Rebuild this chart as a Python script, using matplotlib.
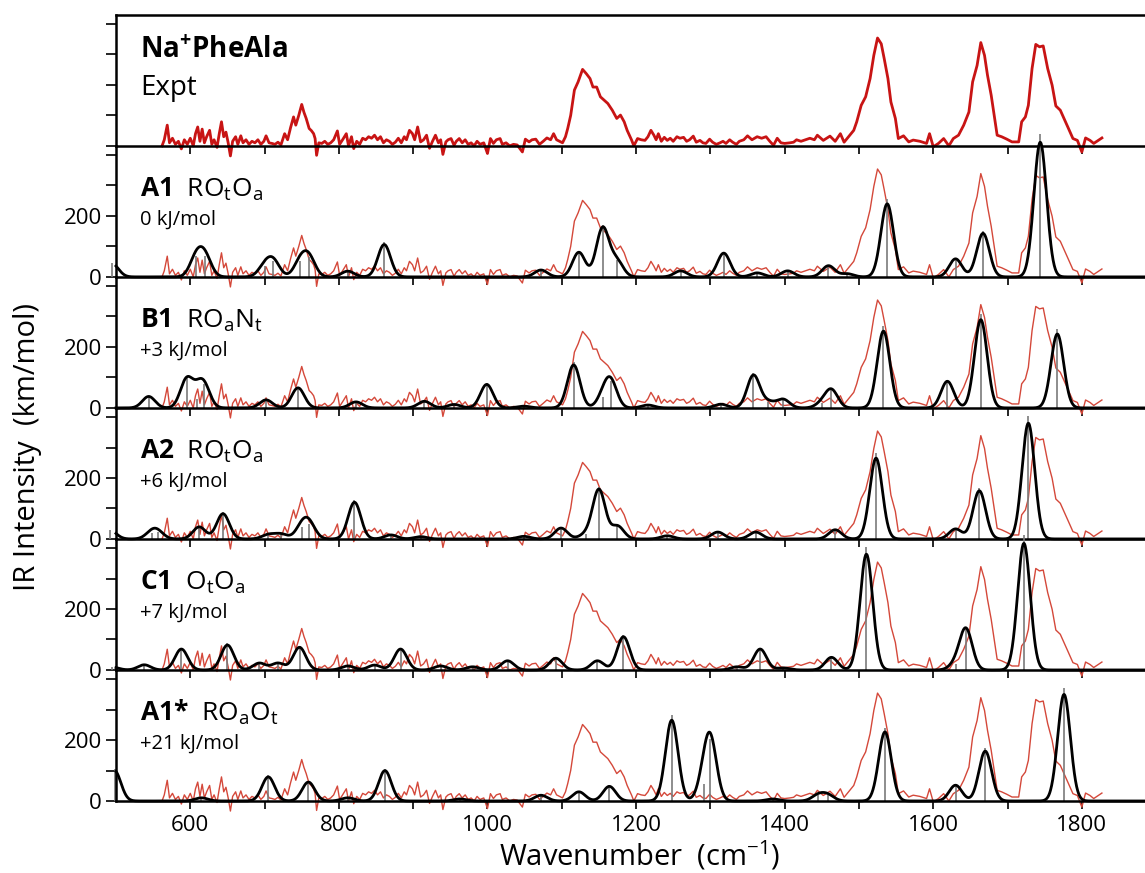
import numpy as np
import matplotlib
matplotlib.use("Agg")
import matplotlib.pyplot as plt

plt.rcParams['font.family'] = ['Open Sans', 'DejaVu Sans']
plt.rcParams['mathtext.fontset'] = 'custom'
plt.rcParams['mathtext.rm'] = 'Open Sans'
plt.rcParams['mathtext.bf'] = 'Open Sans:bold'
plt.rcParams['mathtext.it'] = 'Open Sans:italic'

# experimental IRMPD spectrum (wavenumber, intensity in km/mol scale)
expt_wn = [562, 565, 569, 572, 576, 580, 584, 588, 592, 596, 600, 604, 607, 610, 613, 616, 619, 622,
           626, 629, 632, 636, 639, 642, 645, 648, 651, 654, 657, 661, 664, 668, 671, 675, 679, 683,
           687, 691, 695, 699, 702, 706, 710, 714, 718, 722, 727, 731, 735, 739, 742, 746, 750, 753,
           756, 760, 763, 766, 768, 770, 773, 777, 781, 785, 789, 793, 798, 801, 805, 810, 813, 817,
           820, 824, 828, 832, 836, 840, 844, 848, 852, 856, 860, 864, 868, 872, 876, 880, 884, 888,
           891, 895, 899, 902, 906, 910, 914, 918, 922, 926, 930, 934, 937, 940, 944, 947, 951, 955,
           958, 962, 966, 970, 974, 978, 982, 986, 990, 995, 1000, 1004, 1008, 1012, 1017, 1020, 1025,
           1030, 1035, 1040, 1047, 1051, 1056, 1060, 1065, 1070, 1075, 1080, 1085, 1089, 1093, 1097,
           1101, 1105, 1108, 1112, 1117, 1122, 1128, 1133, 1138, 1142, 1147, 1152, 1157, 1162, 1168,
           1174, 1179, 1184, 1188, 1194, 1197, 1202, 1207, 1212, 1216, 1220, 1224, 1227, 1230, 1234,
           1238, 1242, 1246, 1250, 1255, 1259, 1264, 1268, 1272, 1277, 1281, 1286, 1290, 1294, 1299,
           1303, 1308, 1313, 1317, 1321, 1326, 1330, 1335, 1339, 1345, 1350, 1356, 1363, 1369, 1375,
           1380, 1385, 1390, 1395, 1400, 1407, 1412, 1416, 1422, 1428, 1434, 1440, 1444, 1452, 1461,
           1468, 1475, 1480, 1486, 1493, 1497, 1503, 1509, 1515, 1520, 1525, 1530, 1534, 1539, 1543,
           1549, 1553, 1560, 1567, 1573, 1582, 1591, 1595, 1600, 1607, 1614, 1621, 1627, 1634, 1641,
           1648, 1653, 1659, 1664, 1669, 1673, 1678, 1682, 1686, 1692, 1699, 1706, 1715, 1719, 1724,
           1728, 1733, 1738, 1743, 1748, 1754, 1760, 1765, 1771, 1776, 1782, 1788, 1794, 1800, 1805,
           1811, 1816, 1827]
expt_ir = [0, 20, 68, 10, 25, 5, 15, -10, 20, 5, 25, 0, 40, 62, 15, 55, 10, 30,
           51, 5, 20, -5, 40, 79, 30, 45, 10, -33, 15, 30, 5, 33, 10, 20, 5, 15,
           10, 20, 5, 15, 33, 10, 8, 5, 12, 3, 40, 20, 60, 95, 68, 100, 136, 110,
           90, 57, 50, 40, 24, -31, 10, 8, 15, 5, 10, 20, 49, 5, 20, 40, 0, 30,
           -9, 15, 5, 25, 20, 30, 25, 35, 20, 30, 10, 20, 15, 5, 12, 25, 10, 30,
           20, 51, 40, 20, 62, 13, 20, 35, -8, 15, 35, 10, 20, -28, 13, 20, 24, 2,
           15, 24, 10, 20, 5, 10, 0, 15, 5, 10, -25, 24, 8, 20, 24, 5, 10,
           0, 5, 3, -20, 22, 13, 20, 22, 5, 15, 26, 20, 40, 20, 15,
           10, 30, 57, 100, 183, 210, 251, 237, 221, 193, 193, 161, 150, 139, 117,
           90, 101, 79, 51, 19, 0, 24, 20, 18, 30, 51, 35, 20, 40, 15,
           28, 18, 25, 15, 30, 25, 28, 15, 20, 32, 12, 18, 10, 8, 22,
           12, 5, 10, 15, 8, 20, 12, 5, 15, 20, 33, 20, 30, 25, 30,
           15, 2, 25, 10, 8, 10, 12, 20, 15, 20, 25, 20, 35, 18, 32,
           15, 40, 12, 30, 51, 79, 133, 161, 221, 297, 354, 335, 286, 221, 144,
           90, 24, 33, 13, 19, 15, 8, 40, -3, 8, 24, 0, 24, 35, 68,
           111, 210, 264, 339, 297, 232, 166, 100, 35, 30, 22, 13, 13, 79, 95,
           133, 254, 333, 325, 328, 254, 199, 131, 117, 90, 57, 24, 18, -20, 26,
           18, 8, 26]

# calculated stick spectra: (frequency cm-1, intensity km/mol)
A1_sticks = [(495, 45), (608, 68), (620, 68), (700, 37), (712, 53), (748, 53), (760, 64), (812, 20),
             (861, 113), (1072, 24), (1123, 86), (1155, 170), (1174, 56), (1260, 21), (1318, 83),
             (1363, 14), (1404, 21), (1459, 39), (1484, 11), (1538, 255), (1630, 63), (1667, 152),
             (1744, 470)]
B1_sticks = [(544, 40), (595, 98), (609, 30), (618, 78), (702, 28), (745, 70), (823, 21), (915, 23),
             (955, 12), (999, 82), (1049, 6), (1116, 150), (1156, 37), (1166, 88), (1216, 10),
             (1314, 13), (1358, 114), (1378, 20), (1398, 30), (1450, 15), (1463, 62), (1533, 268),
             (1619, 93), (1664, 308), (1767, 258)]
A2_sticks = [(492, 30), (548, 20), (556, 22), (612, 42), (644, 88), (705, 15), (722, 17), (750, 40),
             (760, 50), (821, 128), (870, 14), (910, 8), (1049, 9), (1099, 38), (1132, 15),
             (1150, 172), (1175, 45), (1242, 11), (1310, 24), (1361, 24), (1468, 32), (1523, 282),
             (1630, 35), (1662, 168), (1728, 404)]
C1_sticks = [(495, 10), (538, 18), (588, 73), (650, 87), (693, 24), (718, 24), (747, 79), (812, 14),
             (848, 17), (883, 73), (937, 14), (980, 11), (1027, 32), (1092, 41), (1148, 32),
             (1183, 116), (1336, 11), (1367, 73), (1398, 7), (1463, 44), (1510, 404), (1630, 20),
             (1644, 142), (1722, 442)]
A1s_sticks = [(498, 106), (615, 11), (705, 84), (759, 66), (812, 11), (862, 106), (963, 7), (1072, 20),
              (1123, 32), (1164, 51), (1248, 282), (1291, 57), (1300, 205), (1384, 7), (1445, 20),
              (1458, 20), (1535, 241), (1630, 55), (1670, 174), (1776, 372)]

names = [r"$\mathbf{A1}$  RO$_\mathrm{t}$O$_\mathrm{a}$",
         r"$\mathbf{B1}$  RO$_\mathrm{a}$N$_\mathrm{t}$",
         r"$\mathbf{A2}$  RO$_\mathrm{t}$O$_\mathrm{a}$",
         r"$\mathbf{C1}$  O$_\mathrm{t}$O$_\mathrm{a}$",
         r"$\mathbf{A1}$$\mathbf{*}$  RO$_\mathrm{a}$O$_\mathrm{t}$"]
energies = ["0 kJ/mol", "+3 kJ/mol", "+6 kJ/mol", "+7 kJ/mol", "+21 kJ/mol"]
all_sticks = [A1_sticks, B1_sticks, A2_sticks, C1_sticks, A1s_sticks]


def broaden(sticks, grid, fwhm=20.0):
    sig = fwhm / 2.3548
    y = np.zeros_like(grid)
    for f, inten in sticks:
        y += 0.94 * inten * np.exp(-(grid - f) ** 2 / (2 * sig ** 2))
    return y


grid = np.linspace(500, 1885, 2800)

fig, axes = plt.subplots(6, 1, figsize=(11.45, 8.73), dpi=100, sharex=True,
                         gridspec_kw={'hspace': 0})
fig.subplots_adjust(left=0.1013, right=1.0, top=0.983, bottom=0.0825)

for i, ax in enumerate(axes):
    ax.set_facecolor('none')
    ax.set_xlim(500, 1885)
    ax.set_ylim(0, 430)
    ax.spines['right'].set_visible(False)
    if i > 0:
        ax.spines['top'].set_visible(False)
    for s in ['left', 'bottom', 'top']:
        ax.spines[s].set_linewidth(1.8)
        ax.spines[s].set_zorder(5)
    ax.set_yticks([0, 100, 200, 300, 400])
    if i == 0:
        ax.set_yticklabels([])
    else:
        ax.set_yticklabels(['0', '', '200', '', ''])
    ax.tick_params(axis='y', direction='out', length=7, width=1.2, labelsize=16, pad=3)
    ax.tick_params(axis='x', direction='out', length=6, width=1.2, labelsize=16, pad=4)

    if i == 0:
        ax.plot(expt_wn, expt_ir, color='#c81414', lw=2.0, clip_on=False)
        ax.text(0.0233, 0.67, r"$\mathbf{Na^{+}PheAla}$", transform=ax.transAxes, fontsize=20)
        ax.text(0.0233, 0.39, "Expt", transform=ax.transAxes, fontsize=20)
    else:
        sticks = all_sticks[i - 1]
        ax.plot(expt_wn, expt_ir, color='#d4483a', lw=1.0, clip_on=False, zorder=2)
        ax.vlines([s[0] for s in sticks], 0, [s[1] for s in sticks], color='#7a7a7a',
                  lw=1.2, clip_on=False, zorder=3)
        ax.plot(grid, broaden(sticks, grid), color='black', lw=2.0, clip_on=False, zorder=4)
        ax.text(0.0233, 0.61, names[i - 1], transform=ax.transAxes, fontsize=19)
        ax.text(0.0233, 0.40, energies[i - 1], transform=ax.transAxes, fontsize=14.5)

axes[-1].set_xticks(range(600, 1900, 100))
axes[-1].set_xticklabels([str(v) if v % 200 == 0 else '' for v in range(600, 1900, 100)])

fig.text(0.024, 0.488, "IR Intensity  (km/mol)", rotation=90, fontsize=21,
         ha='center', va='center')
fig.text(0.559, 0.02, r"Wavenumber  (cm$^{-1}$)", fontsize=21, ha='center', va='center')

fig.savefig("out.png", dpi=100)
